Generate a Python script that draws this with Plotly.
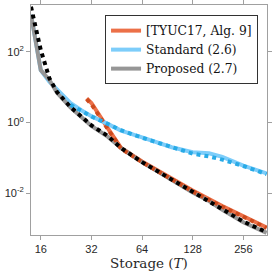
import numpy as np
import plotly.graph_objects as go

# ---- data (log10 of values) ----
x_main = [14, 16, 18, 20, 24, 28, 32, 40, 48, 64, 96, 128, 160, 192, 256, 352]

proposed_log = [3.05, 1.48, 1.20, 0.84, 0.43, 0.15, -0.10, -0.40, -0.72, -1.12, -1.62, -1.98, -2.22, -2.47, -2.82, -3.12]
proposed_pred_log = [3.27, 2.05, 1.25, 0.86, 0.44, 0.16, -0.08, -0.38, -0.72, -1.12, -1.62, -1.97, -2.22, -2.46, -2.80, -3.10]

standard_log = [3.05, 1.48, 1.15, 0.92, 0.55, 0.34, 0.18, -0.04, -0.23, -0.42, -0.70, -0.84, -0.87, -0.97, -1.22, -1.44]
x_std_pred = [24, 28, 32, 40, 48, 64, 96, 128, 160, 192, 256, 352]
standard_pred_log = [0.50, 0.32, 0.17, -0.04, -0.22, -0.43, -0.71, -0.88, -0.96, -1.05, -1.23, -1.46]

x_tyuc = [30, 32, 40, 48, 64, 96, 128, 192, 256, 352]
tyuc_log = [0.68, 0.55, -0.16, -0.72, -1.10, -1.58, -1.92, -2.36, -2.64, -2.97]
tyuc_pred_log = [0.66, 0.52, -0.18, -0.74, -1.12, -1.60, -1.95, -2.38, -2.66, -2.98]

x_ticks = [16, 32, 64, 128, 256]
y_ticks = [1e-2, 1, 1e2]
y_ticktext = ["10<sup>-2</sup>", "10<sup>0</sup>", "10<sup>2</sup>"]

names = ["[TYUC17, Alg. 9]", "Standard (2.6)", "Proposed (2.7)"]

SERIF = "DejaVu Serif"
SANS = "Liberation Sans"


def p(v):
    return [10 ** a for a in v]


fig = go.Figure()
# solid (legend) traces
fig.add_trace(go.Scatter(x=x_tyuc, y=p(tyuc_log), mode="lines", name=names[0],
                         line=dict(color="rgb(236,112,72)", width=4)))
fig.add_trace(go.Scatter(x=x_main, y=p(standard_log), mode="lines", name=names[1],
                         line=dict(color="rgb(125,205,250)", width=4)))
fig.add_trace(go.Scatter(x=x_main, y=p(proposed_log), mode="lines", name=names[2],
                         line=dict(color="rgb(150,150,150)", width=4)))
# dotted (prediction) traces
fig.add_trace(go.Scatter(x=x_tyuc, y=p(tyuc_pred_log), mode="lines", showlegend=False,
                         line=dict(color="rgb(205,75,30)", width=4, dash="dot")))
fig.add_trace(go.Scatter(x=x_std_pred, y=p(standard_pred_log), mode="lines", showlegend=False,
                         line=dict(color="rgb(40,170,230)", width=4, dash="dot")))
fig.add_trace(go.Scatter(x=x_main, y=p(proposed_pred_log), mode="lines", showlegend=False,
                         line=dict(color="black", width=4, dash="dot")))

axis_common = dict(showline=True, linecolor="rgb(160,160,160)", linewidth=1,
                   mirror="allticks", ticks="outside", ticklen=4, tickcolor="rgb(160,160,160)",
                   showgrid=False, zeroline=False, automargin=False,
                   tickfont=dict(family=SANS, size=11, color="rgb(40,40,40)"))

fig.update_xaxes(type="log", range=[np.log10(14), np.log10(354)],
                 tickvals=x_ticks, ticktext=[str(v) for v in x_ticks],
                 title=dict(text="Storage (<i>T</i>)", standoff=3,
                            font=dict(family=SERIF, size=13.5, color="rgb(40,40,40)")),
                 **axis_common)
fig.update_yaxes(type="log", range=[-3.18, 3.32],
                 tickvals=y_ticks, ticktext=y_ticktext, **axis_common)

fig.update_layout(
    width=274, height=277,
    margin=dict(l=31, r=7, t=5, b=42),
    paper_bgcolor="white", plot_bgcolor="white",
    showlegend=True,
    legend=dict(x=0.962, xanchor="right", y=0.956, yanchor="top",
                bgcolor="white", bordercolor="rgb(50,50,50)", borderwidth=1,
                font=dict(family=SERIF, size=12.3, color="rgb(20,20,20)"),
                tracegroupgap=0, itemwidth=30),
)

fig.write_html("out.html", config={"displayModeBar": False},
               post_script="document.body.style.margin='0';")
